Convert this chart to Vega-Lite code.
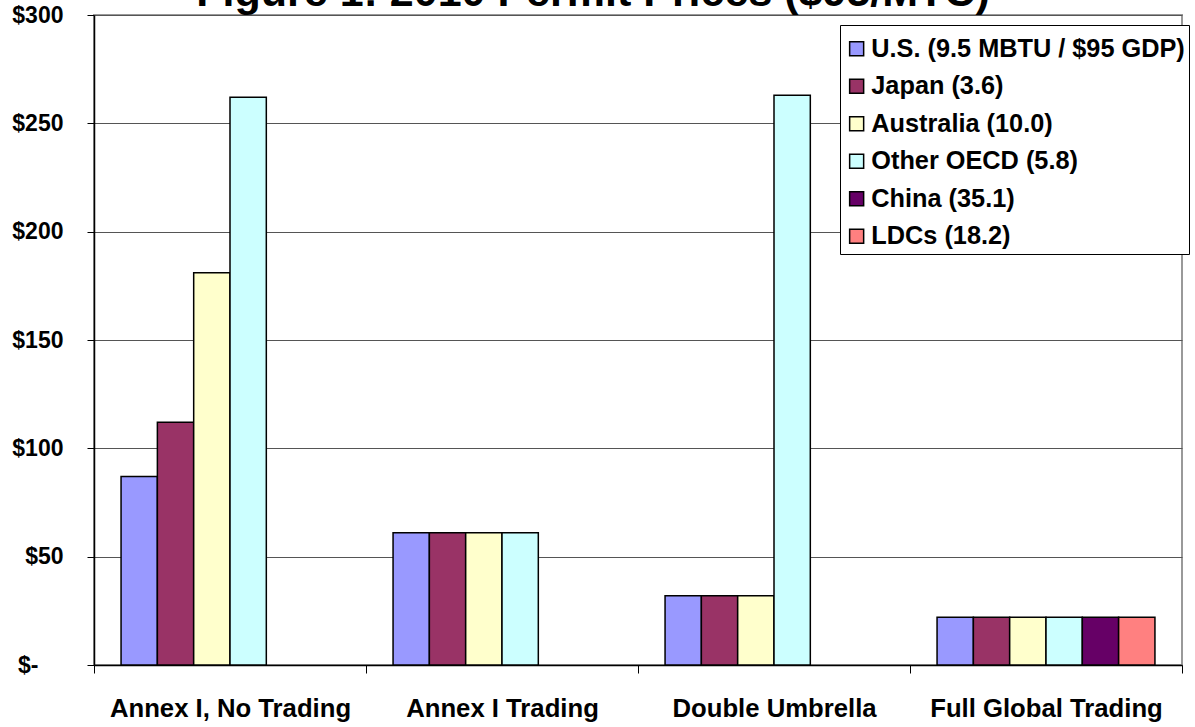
{
  "$schema": "https://vega.github.io/schema/vega-lite/v6.json",
  "width": 1088,
  "height": 650,
  "autosize": {"type": "none"},
  "padding": {"left": 94, "top": 15, "right": 13, "bottom": 62},
  "background": "white",
  "config": {
    "view": {"stroke": "#999999", "strokeWidth": 2},
    "font": "Liberation Sans"
  },
  "datasets": {
    "prices": [
      {"scenario": "Annex I, No Trading", "region": "U.S. (9.5 MBTU / $95 GDP)", "price": 87},
      {"scenario": "Annex I, No Trading", "region": "Japan (3.6)", "price": 112},
      {"scenario": "Annex I, No Trading", "region": "Australia (10.0)", "price": 181},
      {"scenario": "Annex I, No Trading", "region": "Other OECD (5.8)", "price": 262},
      {"scenario": "Annex I Trading", "region": "U.S. (9.5 MBTU / $95 GDP)", "price": 61},
      {"scenario": "Annex I Trading", "region": "Japan (3.6)", "price": 61},
      {"scenario": "Annex I Trading", "region": "Australia (10.0)", "price": 61},
      {"scenario": "Annex I Trading", "region": "Other OECD (5.8)", "price": 61},
      {"scenario": "Double Umbrella", "region": "U.S. (9.5 MBTU / $95 GDP)", "price": 32},
      {"scenario": "Double Umbrella", "region": "Japan (3.6)", "price": 32},
      {"scenario": "Double Umbrella", "region": "Australia (10.0)", "price": 32},
      {"scenario": "Double Umbrella", "region": "Other OECD (5.8)", "price": 263},
      {"scenario": "Full Global Trading", "region": "U.S. (9.5 MBTU / $95 GDP)", "price": 22},
      {"scenario": "Full Global Trading", "region": "Japan (3.6)", "price": 22},
      {"scenario": "Full Global Trading", "region": "Australia (10.0)", "price": 22},
      {"scenario": "Full Global Trading", "region": "Other OECD (5.8)", "price": 22},
      {"scenario": "Full Global Trading", "region": "China (35.1)", "price": 22},
      {"scenario": "Full Global Trading", "region": "LDCs (18.2)", "price": 22}
    ],
    "heading": [
      {"scenario": "Double Umbrella", "price": 300, "label": "Figure 1: 2010 Permit Prices ($95/MTC)"}
    ]
  },
  "layer": [
    {
      "data": {"name": "prices"},
      "mark": {"type": "bar", "stroke": "black", "strokeWidth": 1.5},
      "encoding": {
        "x": {
          "field": "scenario",
          "type": "nominal",
          "sort": ["Annex I, No Trading", "Annex I Trading", "Double Umbrella", "Full Global Trading"],
          "scale": {"domain": ["Annex I, No Trading", "Annex I Trading", "Double Umbrella", "Full Global Trading"], "paddingInner": 0, "paddingOuter": 0},
          "axis": {
            "title": null,
            "labelAngle": 0,
            "labelFont": "Liberation Sans",
            "labelFontSize": 25.7,
            "labelFontWeight": "bold",
            "labelColor": "black",
            "labelPadding": 23,
            "labelLimit": 0,
            "domainColor": "black",
            "domainWidth": 1.5,
            "tickColor": "black",
            "tickSize": 8,
            "tickBand": "extent",
            "grid": false
          }
        },
        "xOffset": {
          "field": "region",
          "type": "nominal",
          "sort": ["U.S. (9.5 MBTU / $95 GDP)", "Japan (3.6)", "Australia (10.0)", "Other OECD (5.8)", "China (35.1)", "LDCs (18.2)"],
          "scale": {"paddingInner": 0, "paddingOuter": 0.745}
        },
        "y": {
          "field": "price",
          "type": "quantitative",
          "scale": {"domain": [0, 300], "nice": false},
          "axis": {
            "title": null,
            "values": [0, 50, 100, 150, 200, 250, 300],
            "labelExpr": "datum.value == 0 ? '$-' : '$' + datum.value",
            "labelFont": "Liberation Sans",
            "labelFontSize": 23,
            "labelFontWeight": "bold",
            "labelColor": "black",
            "labelPadding": {"condition": {"test": "datum.value == 0", "value": 49}, "value": 24},
            "domainColor": "black",
            "domainWidth": 1.5,
            "tickColor": "black",
            "tickSize": 7,
            "gridColor": "#555555",
            "gridWidth": 1
          }
        },
        "color": {
          "field": "region",
          "type": "nominal",
          "sort": ["U.S. (9.5 MBTU / $95 GDP)", "Japan (3.6)", "Australia (10.0)", "Other OECD (5.8)", "China (35.1)", "LDCs (18.2)"],
          "scale": {
            "domain": ["U.S. (9.5 MBTU / $95 GDP)", "Japan (3.6)", "Australia (10.0)", "Other OECD (5.8)", "China (35.1)", "LDCs (18.2)"],
            "range": ["#9999FF", "#993366", "#FFFFCC", "#CCFFFF", "#660066", "#FF8080"]
          },
          "legend": {
            "title": " ",
            "titleFontSize": 7,
            "titlePadding": 0,
            "orient": "none",
            "legendX": 746,
            "legendY": 10,
            "padding": 4,
            "fillColor": "white",
            "strokeColor": "black",
            "symbolType": "square",
            "symbolSize": 196,
            "symbolOffset": 0,
            "symbolStrokeColor": "black",
            "symbolStrokeWidth": 1.5,
            "symbolOpacity": 1,
            "labelFont": "Liberation Sans",
            "labelFontSize": 25.3,
            "labelFontWeight": "bold",
            "labelColor": "black",
            "labelOffset": 2,
            "labelLimit": 400,
            "rowPadding": 11.5
          }
        }
      }
    },
    {
      "data": {"name": "heading"},
      "mark": {
        "type": "text",
        "font": "Liberation Sans",
        "fontSize": 43,
        "fontWeight": "bold",
        "color": "black",
        "align": "center",
        "baseline": "alphabetic",
        "dx": -45,
        "dy": -9
      },
      "encoding": {
        "x": {"field": "scenario", "type": "nominal", "sort": ["Annex I, No Trading", "Annex I Trading", "Double Umbrella", "Full Global Trading"], "bandPosition": 0},
        "y": {"field": "price", "type": "quantitative"},
        "text": {"field": "label"}
      }
    }
  ]
}
